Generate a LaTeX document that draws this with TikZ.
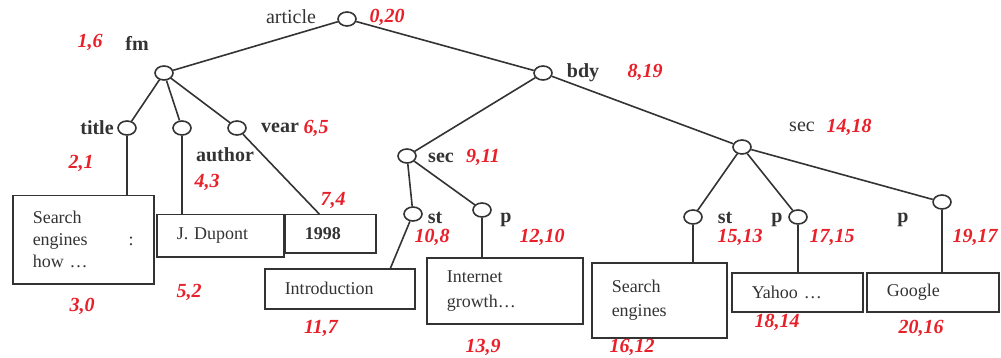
\documentclass[tikz,border=0pt]{standalone}
\usepackage{fontspec}
\setmainfont{Liberation Serif}
\usetikzlibrary{shapes,positioning}
\definecolor{ink}{HTML}{333333}
\definecolor{numred}{HTML}{E8202A}

\begin{document}
\begin{tikzpicture}[x=1pt,y=-1pt]
\tikzstyle{elem}=[draw=ink, shape=ellipse, line width=1.6pt, minimum width=18pt, minimum height=14pt, inner sep=0pt]
\tikzstyle{leaf}=[draw=ink, shape=rectangle, line width=1.5pt, anchor=north west, inner xsep=20pt, inner ysep=0pt, align=left, text=ink, font=\fontsize{18}{22}\selectfont]
\tikzstyle{tag}=[inner sep=0pt, text=ink, font=\fontsize{20}{22}\selectfont\bfseries]
\tikzstyle{plain}=[inner sep=0pt, text=ink, font=\fontsize{20}{22}\selectfont]
\tikzstyle{num}=[inner sep=0pt, text=numred, font=\fontsize{20}{22}\selectfont\bfseries\itshape]
\tikzstyle{link}=[draw=ink, line width=1.6pt]
\useasboundingbox (0,0) rectangle (1001,358);

% tree nodes
\node[elem] (article) at (347,19) {};
\node[elem] (fm) at (164,73) {};
\node[elem] (title) at (127,128) {};
\node[elem] (author) at (182,128) {};
\node[elem] (vear) at (237,128) {};
\node[elem] (bdy) at (543,73) {};
\node[elem] (sec1) at (407,156) {};
\node[elem] (st1) at (413,214) {};
\node[elem] (p1) at (482,210) {};
\node[elem] (sec2) at (742,147) {};
\node[elem] (st2) at (693,217) {};
\node[elem] (p2) at (798,217) {};
\node[elem] (p3) at (942,202) {};

% text leaves
\node[leaf, text width=101pt, minimum height=88pt] (l1) at (12,195) {Search\\engines\hfill:\\how …};
\node[leaf, text width=87pt, minimum height=42pt] (l2) at (156,214) {J. Dupont};
\node[leaf, text width=51pt, minimum height=38pt, font=\fontsize{18}{22}\selectfont\bfseries] (l3) at (284,214) {1998};
\node[leaf, text width=110pt, minimum height=40pt] (l4) at (264,268) {Introduction};
\node[leaf, text width=116pt, minimum height=66pt, font=\fontsize{18}{25}\selectfont] (l5) at (426,257) {Internet\\growth…};
\node[leaf, text width=95pt, minimum height=75pt, font=\fontsize{18}{24}\selectfont] (l6) at (591,262) {Search\\engines};
\node[leaf, text width=91pt, minimum height=39pt] (l7) at (731,272) {Yahoo …};
\node[leaf, text width=92pt, minimum height=39pt] (l8) at (866,272) {Google};

% tags and numbers
\node[plain] (article-t) at (291,17) {article};
\node[num] (article-n) at (387,17) {0,20};
\node[tag] (fm-t) at (137,43) {fm};
\node[num] (fm-n) at (90,42) {1,6};
\node[tag] (title-t) at (97,128) {title};
\node[num] (title-n) at (81,163) {2,1};
\node[num] (l1-n) at (82,306) {3,0};
\node[tag] (author-t) at (225,155) {author};
\node[num] (author-n) at (207,182) {4,3};
\node[num] (l2-n) at (189,292) {5,2};
\node[tag] (vear-t) at (280,128) {vear};
\node[num] (vear-n) at (316,128) {6,5};
\node[num] (l3-n) at (333,200) {7,4};
\node[tag] (bdy-t) at (583,73) {bdy};
\node[num] (bdy-n) at (645,72) {8,19};
\node[tag] (sec1-t) at (441,158) {sec};
\node[num] (sec1-n) at (483,157) {9,11};
\node[tag] (st1-t) at (435,218) {st};
\node[num] (st1-n) at (432,237) {10,8};
\node[num] (l4-n) at (321,328) {11,7};
\node[tag] (p1-t) at (506,220) {p};
\node[num] (p1-n) at (542,237) {12,10};
\node[num] (l5-n) at (483,347) {13,9};
\node[plain] (sec2-t) at (802,127) {sec};
\node[num] (sec2-n) at (849,127) {14,18};
\node[tag] (st2-t) at (725,218) {st};
\node[num] (st2-n) at (740,237) {15,13};
\node[num] (l6-n) at (632,347) {16,12};
\node[tag] (p2-t) at (777,220) {p};
\node[num] (p2-n) at (832,237) {17,15};
\node[num] (l7-n) at (777,322) {18,14};
\node[tag] (p3-t) at (903,220) {p};
\node[num] (p3-n) at (975,237) {19,17};
\node[num] (l8-n) at (921,328) {20,16};

% connectors
\draw[link] (article) -- (fm);
\draw[link] (article) -- (bdy);
\draw[link] (fm) -- (title);
\draw[link] (fm) -- (author);
\draw[link] (fm) -- (vear);
\draw[link] (title) -- (title |- l1.north);
\draw[link] (author) -- (author |- l2.north);
\draw[link] (vear) -- ([xshift=-11pt]l3.north);
\draw[link] (bdy) -- (sec1);
\draw[link] (bdy) -- (sec2);
\draw[link] (sec1) -- (st1);
\draw[link] (sec1) -- (p1);
\draw[link] (st1) -- ([xshift=-25pt]l4.north east);
\draw[link] (p1) -- (p1 |- l5.north);
\draw[link] (sec2) -- (st2);
\draw[link] (sec2) -- (p2);
\draw[link] (sec2) -- (p3);
\draw[link] (st2) -- (st2 |- l6.north);
\draw[link] (p2) -- (p2 |- l7.north);
\draw[link] (p3) -- (p3 |- l8.north);
\end{tikzpicture}
\end{document}
